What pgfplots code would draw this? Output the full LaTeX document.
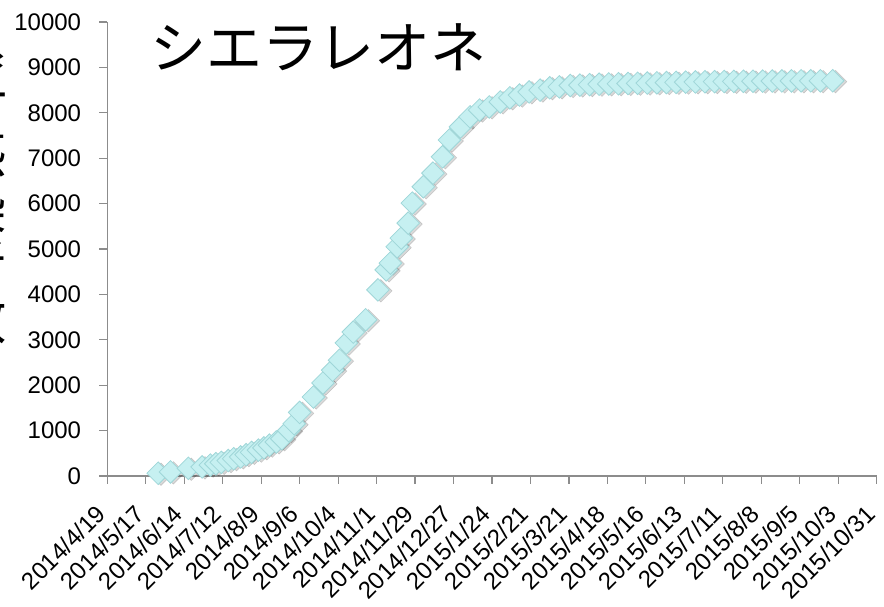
\documentclass[border=0pt]{standalone}
\usepackage{fontspec}
\setmainfont{Liberation Sans}
\newfontfamily\cjk{Noto Sans CJK JP}
\usepackage{pgfplots}
\usepackage{pgfplotstable}
\pgfplotsset{compat=1.18}
\definecolor{axisgray}{HTML}{8C8C8C}
\definecolor{mfill}{HTML}{C6F0F1}
\definecolor{mdraw}{HTML}{9FD6D8}
% x = days since 2014/4/19, y = cumulative cases
\pgfplotstableread{
x y
37 60
46 90
59 170
69 200
75 240
79 270
83 300
88 340
92 380
97 420
101 470
105 520
110 570
114 620
118 680
123 750
127 820
132 1000
136 1150
140 1400
150 1740
157 2050
164 2330
169 2550
174 2930
179 3170
188 3440
197 4100
203 4540
206 4690
211 5050
214 5240
219 5570
222 6010
230 6370
237 6670
244 7030
249 7400
257 7690
264 7910
271 8060
278 8130
286 8240
293 8330
300 8390
307 8460
315 8500
322 8550
329 8570
337 8600
344 8610
351 8620
358 8630
365 8635
372 8640
379 8645
386 8650
393 8655
400 8660
407 8665
414 8670
421 8675
428 8680
435 8683
442 8686
449 8689
456 8692
463 8694
470 8696
477 8698
484 8700
491 8702
498 8703
505 8704
512 8704
519 8705
528 8706
}\sldata
\begin{document}
\begin{tikzpicture}
\begin{axis}[
  scale only axis, width=577pt, height=340.5pt,
  xmin=0, xmax=560, ymin=0, ymax=10000,
  axis x line=bottom, axis y line=left,
  axis line style={axisgray, line width=0.9pt, -},
  tick style={axisgray, line width=0.9pt},
  tick align=outside, major tick length=6pt,
  xtick={0,28,...,560}, ytick={0,1000,...,10000},
  scaled y ticks=false,
  xticklabels={2014/4/19,2014/5/17,2014/6/14,2014/7/12,2014/8/9,2014/9/6,2014/10/4,2014/11/1,2014/11/29,2014/12/27,2015/1/24,2015/2/21,2015/3/21,2015/4/18,2015/5/16,2015/6/13,2015/7/11,2015/8/8,2015/9/5,2015/10/3,2015/10/31},
  tick label style={font=\fontsize{18}{20}\selectfont},
  /pgf/number format/assume math mode=true,
  /pgf/number format/1000 sep={},
  yticklabel style={xshift=-13.5pt, anchor=east, inner sep=0pt},
  xticklabel style={xshift=-4.5pt, yshift=-19pt, rotate=45, anchor=east, inner sep=0pt},
  clip=false,
]
\addplot[only marks, mark=square*, mark size=6pt,
  mark options={rotate=45, fill=black, draw=none, opacity=0.15, xshift=1pt, yshift=-2pt}] table {\sldata};
\addplot[only marks, mark=square*, mark size=6pt,
  mark options={rotate=45, fill=mfill, draw=mdraw, line width=0.6pt}] table {\sldata};
\node[font=\cjk\fontsize{42}{46}\selectfont, inner sep=0pt] at (rel axis cs:0.274,0.945) {シエラレオネ};
\end{axis}
\node[font=\cjk\fontsize{40}{41.25}\selectfont, align=center, inner sep=0pt]
  at ([xshift=-95.5pt,yshift=219.75pt]current axis.south west) {累\\計\\感\\染\\者\\数};
\pgfresetboundingbox
\path[use as bounding box] ([xshift=-80.5pt,yshift=-97.5pt]current axis.south west) rectangle ([xshift=5.5pt,yshift=16.5pt]current axis.north east);
\end{tikzpicture}
\end{document}
